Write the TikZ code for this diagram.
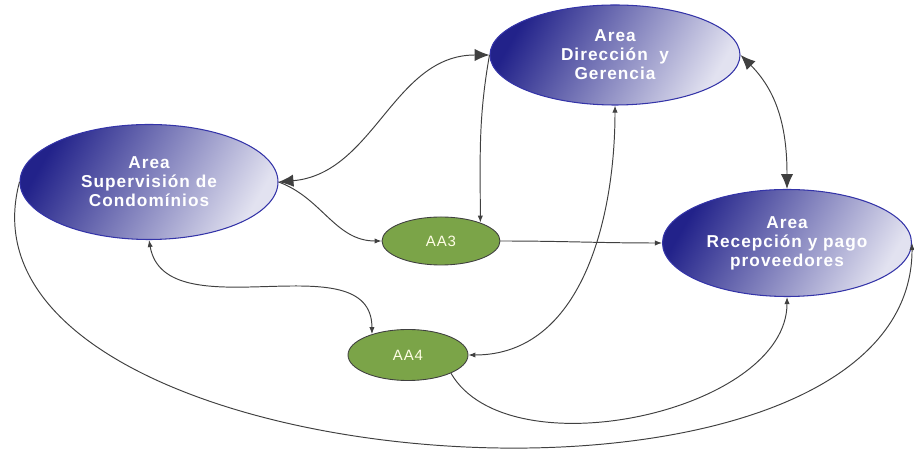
\documentclass[tikz,border=0pt]{standalone}
\usepackage{fontspec}
\setmainfont{Liberation Sans}
\newfontfamily\areafont[LetterSpace=6]{Liberation Sans}
\usetikzlibrary{shapes.geometric,arrows.meta}
\definecolor{areadark}{HTML}{22228A}
\definecolor{arealight}{HTML}{E2E2F0}
\definecolor{areaedge}{HTML}{3434A8}
\definecolor{aagreen}{HTML}{7BA448}
\tikzset{
  area/.style={ellipse, draw=areaedge, line width=0.6pt, top color=areadark,
    bottom color=arealight, shading angle=60, text=white, align=center,
    inner sep=0pt, font=\areafont\bfseries\fontsize{9.8}{10.8}\selectfont},
  aa/.style={ellipse, draw=black!75, line width=0.5pt, fill=aagreen,
    text=white!90!yellow, inner sep=0pt,
    font=\areafont\fontsize{8.5}{10}\selectfont},
  link/.style={draw=black!75, line width=0.55pt, >={Latex[length=4pt,width=3pt]}},
  bigtips/.style={{Latex[length=8.5pt,width=7pt]}-{Latex[length=8.5pt,width=7pt]}}
}
\begin{document}
\begin{tikzpicture}
  \useasboundingbox (0,0) rectangle (18.28,9.1);
  \node[area, minimum width=5cm, minimum height=2cm] (dir) at (12.30,8.00)
    {Area\\Dirección~ y\\Gerencia};
  \node[area, minimum width=5.16cm, minimum height=2.3cm] (sup) at (2.98,5.46)
    {Area\\Supervisión de\\Condomínios};
  \node[area, minimum width=4.98cm, minimum height=2.14cm] (recep) at (15.74,4.24)
    {Area\\Recepción y pago\\proveedores};
  \node[aa, minimum width=2.36cm, minimum height=0.96cm] (aa3) at (8.82,4.28) {AA3};
  \node[aa, minimum width=2.4cm, minimum height=1.02cm] (aa4) at (8.16,2.00) {AA4};

  \draw[link,bigtips] (sup.east) to[out=5,in=180] (dir.west);
  \draw[link,->] (sup.east) to[out=-20,in=180] (aa3.west);
  \draw[link,->] (dir.west) to[out=-100,in=90] (aa3.25);
  \draw[link,->] (aa3.east) to[out=0,in=180] (recep.west);
  \draw[link,bigtips] (dir.east) to[out=-45,in=90] (recep.north);
  \draw[link,<->] (dir.south) to[out=-90,in=0] (aa4.east);
  \draw[link,<->] (sup.south) to[out=-80,in=90] (aa4.150);
  \draw[link,->] (aa4.-23) to[out=-60,in=-90,looseness=0.85] (recep.south);
  \draw[link,->] (sup.west) to[out=-105,in=-90,looseness=0.9] (recep.east);
\end{tikzpicture}
\end{document}
